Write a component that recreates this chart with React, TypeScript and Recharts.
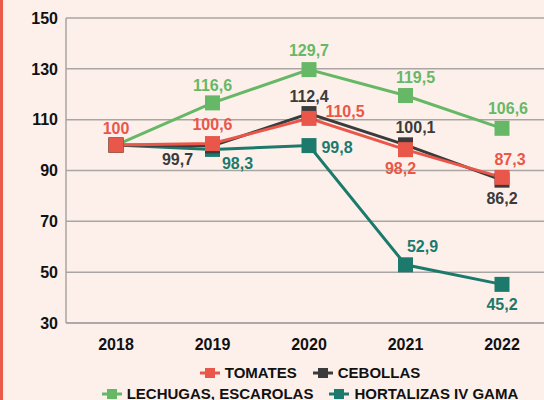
import React from 'react';
import { LineChart, Line, XAxis, YAxis, CartesianGrid, Legend, LabelList } from 'recharts';

const years = ['2018', '2019', '2020', '2021', '2022'];
const tomates = [100, 100.6, 110.5, 98.2, 87.3];
const cebollas = [100, 99.7, 112.4, 100.1, 86.2];
const lechugas = [100, 116.6, 129.7, 119.5, 106.6];
const hortalizas = [100, 98.3, 99.8, 52.9, 45.2];
const yTicks = [30, 50, 70, 90, 110, 130, 150];

const seriesNames: Record<string, string> = {
  tomates: 'TOMATES',
  cebollas: 'CEBOLLAS',
  lechugas: 'LECHUGAS, ESCAROLAS',
  hortalizas: 'HORTALIZAS IV GAMA',
};
const colors: Record<string, string> = {
  tomates: '#e9574a',
  cebollas: '#3b3b3b',
  lechugas: '#67b866',
  hortalizas: '#1b7a6c',
};
const legendRows = [['tomates', 'cebollas'], ['lechugas', 'hortalizas']];

// label offsets (dx, dy) relative to point, per series per index; null = hidden
const labelOffsets: Record<string, ([number, number] | null)[]> = {
  tomates: [[0, -17], [0, -19], [36, -7], [-5, 19], [8, -18]],
  cebollas: [null, [-35, 14], [0, -17], [10, -17], [0, 18]],
  lechugas: [null, [0, -17], [0, -19], [10, -18], [6, -20]],
  hortalizas: [null, [25, 14], [28, 2], [17, -18], [0, 20]],
};

const data = years.map((y, i) => ({
  year: y,
  tomates: tomates[i],
  cebollas: cebollas[i],
  lechugas: lechugas[i],
  hortalizas: hortalizas[i],
}));

const fmt = (v: number) => (Number.isInteger(v) ? String(v) : v.toFixed(1).replace('.', ','));

const FONT = '"Liberation Sans", Arial, sans-serif';

const makeLabel = (key: string) => (props: any) => {
  const { x, y, value, index } = props;
  const off = labelOffsets[key][index];
  if (!off) return null;
  return (
    <text
      x={x + off[0]}
      y={y + off[1]}
      textAnchor="middle"
      dominantBaseline="central"
      fill={colors[key]}
      fontSize={16}
      fontWeight="bold"
      fontFamily={FONT}
    >
      {fmt(value)}
    </text>
  );
};

const SquareDot = (color: string) => (props: any) => {
  const { cx, cy, index } = props;
  if (cx == null || cy == null) return null;
  return <rect key={index} x={cx - 7.5} y={cy - 7.5} width={15} height={15} fill={color} />;
};

const LegendIcon = ({ color }: { color: string }) => (
  <svg width={20} height={12} style={{ display: 'inline-block', verticalAlign: 'middle' }}>
    <line x1={0} y1={6} x2={20} y2={6} stroke={color} strokeWidth={3} />
    <rect x={5} y={1} width={10} height={10} fill={color} />
  </svg>
);

const renderLegend = () => (
  <div style={{ fontFamily: FONT, fontWeight: 'bold', fontSize: 15, color: '#111' }}>
    {legendRows.map((row, r) => (
      <div
        key={r}
        style={{ display: 'flex', justifyContent: 'center', alignItems: 'center', height: 21, gap: 16 }}
      >
        {row.map((k) => (
          <div key={k} style={{ display: 'flex', alignItems: 'center', gap: 5 }}>
            <LegendIcon color={colors[k]} />
            <span>{seriesNames[k]}</span>
          </div>
        ))}
      </div>
    ))}
  </div>
);

const drawOrder = ['lechugas', 'hortalizas', 'cebollas', 'tomates'];

export default function App() {
  return (
    <div
      style={{
        position: 'fixed',
        left: 0,
        top: 0,
        width: 544,
        height: 400,
        overflow: 'hidden',
        background: '#fdf0eb',
      }}
    >
      <div style={{ position: 'absolute', left: 0, top: 0, width: 3, height: 400, background: '#ec5a4c' }} />
      <LineChart
        width={548}
        height={400}
        data={data}
        margin={{ top: 18, right: 0, left: 0, bottom: 47 }}
      >
        <CartesianGrid horizontal vertical={false} stroke="#a9a5a2" strokeWidth={1.5} />
        <XAxis
          dataKey="year"
          height={30}
          padding={{ left: 50, right: 46 }}
          axisLine={{ stroke: '#a9a5a2', strokeWidth: 1.5 }}
          tickLine={false}
          tickSize={0}
          tickMargin={16}
          tick={{ fill: '#111', fontSize: 16, fontWeight: 'bold', fontFamily: FONT }}
        />
        <YAxis
          width={66}
          domain={[30, 150]}
          ticks={yTicks}
          interval={0}
          axisLine={{ stroke: '#a9a5a2', strokeWidth: 1.5 }}
          tickLine={false}
          tickSize={0}
          tickMargin={8}
          tick={{ fill: '#111', fontSize: 16, fontWeight: 'bold', fontFamily: FONT }}
        />
        <Legend
          verticalAlign="bottom"
          content={renderLegend}
          wrapperStyle={{ position: 'absolute', top: 362, left: 66, width: 488, height: 0, overflow: 'visible' }}
        />
        {drawOrder.map((k) => (
          <Line
            key={k}
            dataKey={k}
            name={seriesNames[k]}
            stroke={colors[k]}
            strokeWidth={3}
            dot={SquareDot(colors[k])}
            activeDot={false}
            isAnimationActive={false}
          >
            <LabelList dataKey={k} content={makeLabel(k)} />
          </Line>
        ))}
      </LineChart>
    </div>
  );
}
